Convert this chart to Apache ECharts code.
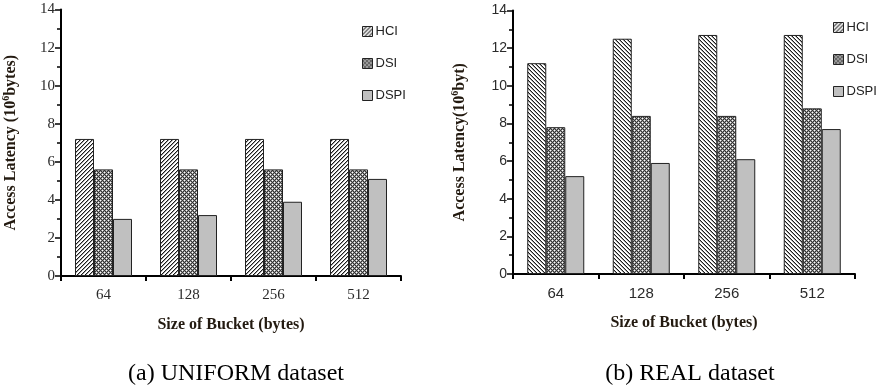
<!DOCTYPE html>
<html><head><meta charset="utf-8">
<script src="https://cdn.jsdelivr.net/npm/echarts@6/dist/echarts.min.js"></script>
<style>html,body{margin:0;padding:0;background:#fff}#c{width:877px;height:391px}</style>
</head><body><div id="c"></div>
<script>
const categories = ['64', '128', '256', '512'];
const seriesNames = ['HCI', 'DSI', 'DSPI'];
const uniformHCI = [7.2, 7.2, 7.2, 7.2];
const uniformDSI = [5.6, 5.6, 5.6, 5.6];
const uniformDSPI = [3.0, 3.2, 3.9, 5.1];
const realHCI = [11.2, 12.5, 12.7, 12.7];
const realDSI = [7.8, 8.4, 8.4, 8.8];
const realDSPI = [5.2, 5.9, 6.1, 7.7];
const yTicks = [0, 2, 4, 6, 8, 10, 12, 14];

function makeTile(size, draw) {
  const c = document.createElement('canvas');
  c.width = size; c.height = size;
  const ctx = c.getContext('2d');
  draw(ctx);
  return c;
}
const hatchFwd = makeTile(4, ctx => {
  ctx.fillStyle = '#fff'; ctx.fillRect(0, 0, 4, 4);
  for (let i = 0; i < 4; i++) {
    ctx.fillStyle = '#1a1a1a'; ctx.fillRect(i, 3 - i, 1, 1);
    ctx.fillStyle = '#a0a0a0'; ctx.fillRect(i, (4 - i) % 4, 1, 1);
  }
});
const hatchBack = makeTile(4, ctx => {
  ctx.fillStyle = '#fff'; ctx.fillRect(0, 0, 4, 4);
  for (let i = 0; i < 4; i++) {
    ctx.fillStyle = '#1a1a1a'; ctx.fillRect(i, i, 1, 1);
    ctx.fillStyle = '#a0a0a0'; ctx.fillRect(i, (i + 1) % 4, 1, 1);
  }
});
const checkerRows = [
  ['#ffffff', '#999999', '#333333', '#999999'],
  ['#999999', '#333333', '#999999', '#333333'],
  ['#333333', '#999999', '#ffffff', '#999999'],
  ['#999999', '#333333', '#999999', '#333333']
];
const checker = makeTile(4, ctx => {
  for (let r = 0; r < 4; r++) for (let c = 0; c < 4; c++) {
    ctx.fillStyle = checkerRows[r][c]; ctx.fillRect(c, r, 1, 1);
  }
});

const serif = 'Liberation Serif';
const sans = 'Liberation Sans';
const nameColor = '#231a10';

function yAxis(gi, font, nameParts, gap) {
  return {
    type: 'value', gridIndex: gi, min: 0, max: 14, interval: 2,
    axisLine: { show: true, lineStyle: { color: '#000', width: 2 } },
    axisTick: { show: true, length: 6, lineStyle: { color: '#000', width: 1.5 } },
    minorTick: { show: true, splitNumber: 2, length: 4, lineStyle: { color: '#000', width: 1.5 } },
    splitLine: { show: false },
    axisLabel: { fontFamily: font, fontSize: font === serif ? 15 : 14, color: '#2a2a2a', margin: 6,
      formatter: v => yTicks.includes(v) ? String(v) : '' },
    name: nameParts, nameLocation: 'middle', nameGap: gap,
    nameTextStyle: { fontFamily: serif, fontWeight: 'bold', fontSize: 16, color: nameColor,
      rich: { b: { fontFamily: serif, fontWeight: 'bold', fontSize: 16, color: nameColor, lineHeight: 20 },
              sup: { fontFamily: serif, fontWeight: 'bold', fontSize: 10, color: nameColor, verticalAlign: 'top', lineHeight: 20 } } }
  };
}
function xAxis(gi, font) {
  return {
    type: 'category', gridIndex: gi, data: categories,
    axisLine: { show: true, lineStyle: { color: '#000', width: 2 } },
    axisTick: { show: true, length: 5, inside: false, lineStyle: { color: '#000', width: 2 } },
    axisLabel: { fontFamily: font, fontSize: 15, color: '#2a2a2a', margin: 12 },
    name: 'Size of Bucket (bytes)', nameLocation: 'middle', nameGap: 41,
    nameTextStyle: { fontFamily: serif, fontWeight: 'bold', fontSize: 16, color: nameColor }
  };
}
function bar(name, data, gi, fill) {
  return {
    name: name, type: 'bar', xAxisIndex: gi, yAxisIndex: gi, data: data,
    barWidth: 19, barGap: '0%',
    itemStyle: { color: fill, borderColor: '#222', borderWidth: 1 },
    emphasis: { disabled: true }
  };
}
const legendBase = {
  orient: 'vertical', icon: 'rect', itemWidth: 10, itemHeight: 10, itemGap: 19,
  textStyle: { fontFamily: sans, fontSize: 13, color: '#222', padding: [0, 0, 0, -2] },
  data: seriesNames, selectedMode: false,
  itemStyle: { borderColor: '#222', borderWidth: 1 }
};

const chart = echarts.init(document.getElementById('c'));
chart.setOption({
  animation: false,
  grid: [
    { left: 59, right: 476, top: 9.5, bottom: 115 },
    { left: 513, right: 22, top: 10.5, bottom: 117 }
  ],
  xAxis: [xAxis(0, serif), xAxis(1, sans)],
  yAxis: [
    yAxis(0, serif, '{b|Access Latency (10}{sup|6}{b|bytes)}', 40),
    yAxis(1, sans, '{b|Access Latency(10}{sup|6}{b|byt)}', 43)
  ],
  legend: [
    Object.assign({}, legendBase, { left: 357, top: 20 }),
    Object.assign({}, legendBase, { left: 828, top: 16 })
  ],
  series: [
    bar('HCI', uniformHCI, 0, { image: hatchFwd, repeat: 'repeat' }),
    bar('DSI', uniformDSI, 0, { image: checker, repeat: 'repeat' }),
    bar('DSPI', uniformDSPI, 0, '#c0c0c0'),
    bar('HCI', realHCI, 1, { image: hatchBack, repeat: 'repeat' }),
    bar('DSI', realDSI, 1, { image: checker, repeat: 'repeat' }),
    bar('DSPI', realDSPI, 1, '#c0c0c0')
  ],
  graphic: [
    { type: 'text', x: 236, y: 374, style: { text: '(a) UNIFORM dataset', font: '24px "Liberation Serif"', fill: '#000', align: 'center', verticalAlign: 'middle' } },
    { type: 'text', x: 690, y: 374, style: { text: '(b) REAL dataset', font: '24px "Liberation Serif"', fill: '#000', align: 'center', verticalAlign: 'middle' } }
  ]
});
</script></body></html>
